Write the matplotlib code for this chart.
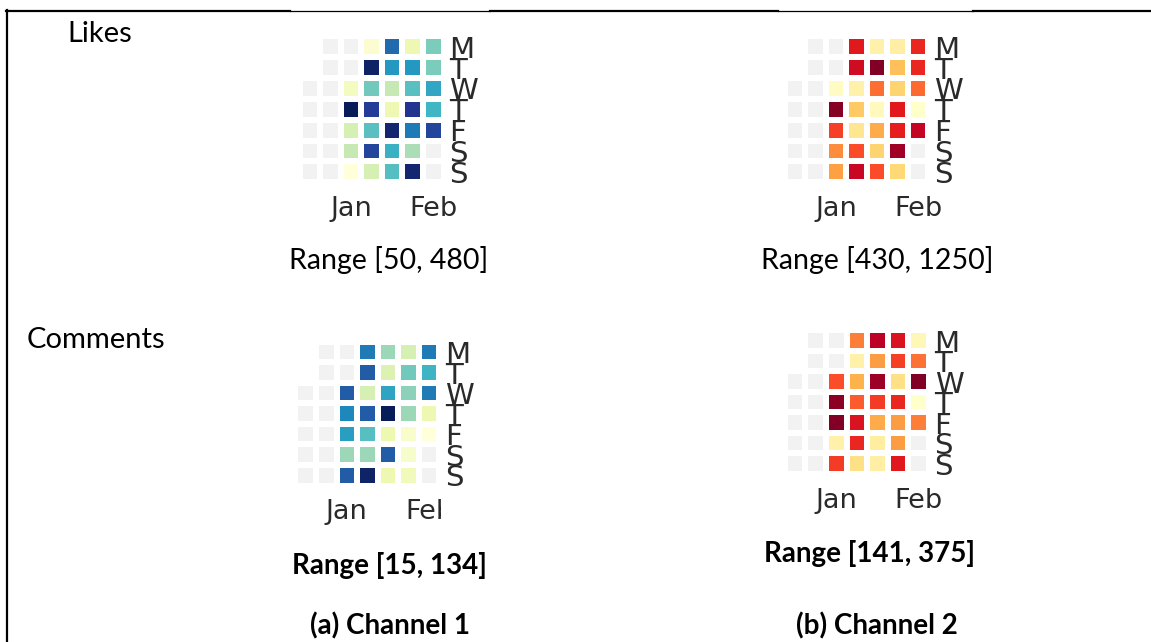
import numpy as np
import matplotlib
matplotlib.use("Agg")
import matplotlib.pyplot as plt
from matplotlib.colors import ListedColormap
from matplotlib.lines import Line2D
from matplotlib.transforms import Bbox, TransformedBbox

nan = np.nan

# rows = Mon..Sun, cols = weeks; nan = day without data (grey)
day_labels = ["M", "T", "W", "T", "F", "S", "S"]
month_ticks = [2, 6]
month_labels = ["Jan", "Feb"]
first_weekday = 2  # calendar starts on a Wednesday

likes_ch1 = [
    [nan, nan, nan, 63, 360, 102, 213],
    [nan, nan, nan, 467, 308, 308, 213],
    [nan, nan, 84, 222, 158, 244, 287],
    [nan, nan, 480, 416, 102, 428, 265],
    [nan, nan, 136, 244, 459, 342, 403],
    [nan, nan, 158, 403, 274, 179, nan],
    [nan, nan, 50, 136, 248, 459, nan],
]
likes_ch2 = [
    [nan, nan, nan, 1045, 512, 528, 1020],
    [nan, nan, nan, 1102, 1250, 701, 1020],
    [nan, nan, 455, 512, 889, 651, 897],
    [nan, nan, 1240, 676, 463, 1045, 430],
    [nan, nan, 971, 569, 758, 1037, 1127],
    [nan, nan, 840, 947, 651, 1193, nan],
    [nan, nan, 783, 1119, 947, 635, nan],
]
comments_ch1 = [
    [nan, nan, nan, 96, 54, 39, 96],
    [nan, nan, nan, 105, 36, 63, 75],
    [nan, nan, 105, 39, 82, 57, 96],
    [nan, nan, 92, 105, 134, 54, 29],
    [nan, nan, 84, 69, 30, 20, 15],
    [nan, nan, 54, 54, 105, 21, nan],
    [nan, nan, 105, 130, 29, 27, nan],
]
comments_ch2 = [
    [nan, nan, nan, 265, 345, 324, 155],
    [nan, nan, nan, 164, 246, 295, 270],
    [nan, nan, 288, 229, 361, 188, 375],
    [nan, nan, 368, 281, 298, 309, 141],
    [nan, nan, 374, 324, 235, 246, 265],
    [nan, nan, 164, 309, 171, 246, nan],
    [nan, nan, 298, 188, 169, 319, nan],
]
ranges = {"likes_ch1": (50, 480), "likes_ch2": (430, 1250),
          "comments_ch1": (15, 134), "comments_ch2": (141, 375)}

W, H = 1151, 642
fig = plt.figure(figsize=(W / 100, H / 100), dpi=100)
fig.patch.set_facecolor("white")


def fx(x):
    return x / W


def fy(y):
    return 1 - y / H


def calendar(box, values, cmap, vrange, clip_feb=None):
    l, t, r, b = box
    ax = fig.add_axes([fx(l), fy(b), fx(r - l), (b - t) / H])
    vals = np.array(values, dtype=float)
    rows, cols = vals.shape
    in_cal = np.ones_like(vals, dtype=bool)
    in_cal[:first_weekday, 0] = False
    grey = np.ma.masked_where(~in_cal, np.zeros_like(vals))
    ax.pcolormesh(grey, cmap=ListedColormap(["#f2f2f2"]), edgecolors="white", linewidth=4.2)
    ax.pcolormesh(np.ma.masked_invalid(vals), cmap=cmap, vmin=vrange[0], vmax=vrange[1],
                  edgecolors="white", linewidth=4.2)
    ax.set_xlim(0, cols)
    ax.set_ylim(rows, 0)
    for s in ax.spines.values():
        s.set_visible(False)
    ax.yaxis.tick_right()
    ax.set_yticks(np.arange(rows) + 0.5, day_labels)
    ax.set_xticks(np.array(month_ticks) + 0.5, month_labels)
    ax.tick_params(length=0, colors="#2a2a2a")
    ax.tick_params(axis="y", pad=4, labelsize=21)
    ax.tick_params(axis="x", pad=10, labelsize=19.5)
    for lab in ax.get_yticklabels():
        lab.set_family(["Liberation Sans Narrow", "DejaVu Sans"])
    if clip_feb is not None:
        lab = ax.get_xticklabels()[1]
        lab.set_clip_on(True)
        lab.set_clip_box(TransformedBbox(Bbox([[0, 0], [fx(clip_feb), 1]]), fig.transFigure))
    return ax


calendar((299.7, 36.3, 443.5, 182.2), likes_ch1, "YlGnBu", ranges["likes_ch1"])
calendar((784.7, 36.3, 928.2, 182.2), likes_ch2, "YlOrRd", ranges["likes_ch2"])
calendar((295.4, 341.7, 439.3, 485.6), comments_ch1, "YlGnBu", ranges["comments_ch1"], clip_feb=441)
calendar((784.7, 330.4, 929.0, 474.0), comments_ch2, "YlOrRd", ranges["comments_ch2"])

doc_font = "Lato"
fig.text(fx(67), fy(41.7), "Likes", fontsize=21, family=doc_font, va="baseline", ha="left")
fig.text(fx(27), fy(348), "Comments", fontsize=21, family=doc_font, va="baseline", ha="left")
fig.text(fx(389), fy(269), "Range [%d, %d]" % ranges["likes_ch1"], fontsize=20.5,
         family=doc_font, va="baseline", ha="center")
fig.text(fx(877), fy(269), "Range [%d, %d]" % ranges["likes_ch2"], fontsize=20.5,
         family=doc_font, va="baseline", ha="center")
fig.text(fx(389), fy(574), "Range [%d, %d]" % ranges["comments_ch1"], fontsize=20,
         family=doc_font, weight="bold", va="baseline", ha="center")
fig.text(fx(870), fy(562), "Range [%d, %d]" % ranges["comments_ch2"], fontsize=20,
         family=doc_font, weight="bold", va="baseline", ha="center")
fig.text(fx(390), fy(634), "(a) Channel 1", fontsize=20, family=doc_font, weight="bold",
         va="baseline", ha="center")
fig.text(fx(877), fy(634), "(b) Channel 2", fontsize=20, family=doc_font, weight="bold",
         va="baseline", ha="center")

# table borders
for x0, x1, lw in [(6, 290, 1.6), (290, 490, 0.9), (490, 778, 1.6), (778, 973, 0.9), (973, 1151, 1.6)]:
    fig.add_artist(Line2D([fx(x0), fx(x1)], [fy(10.5), fy(10.5)], color="black", lw=lw))
fig.add_artist(Line2D([fx(7), fx(7)], [fy(10), fy(642)], color="black", lw=1.6))

fig.savefig("out.png", dpi=100)
